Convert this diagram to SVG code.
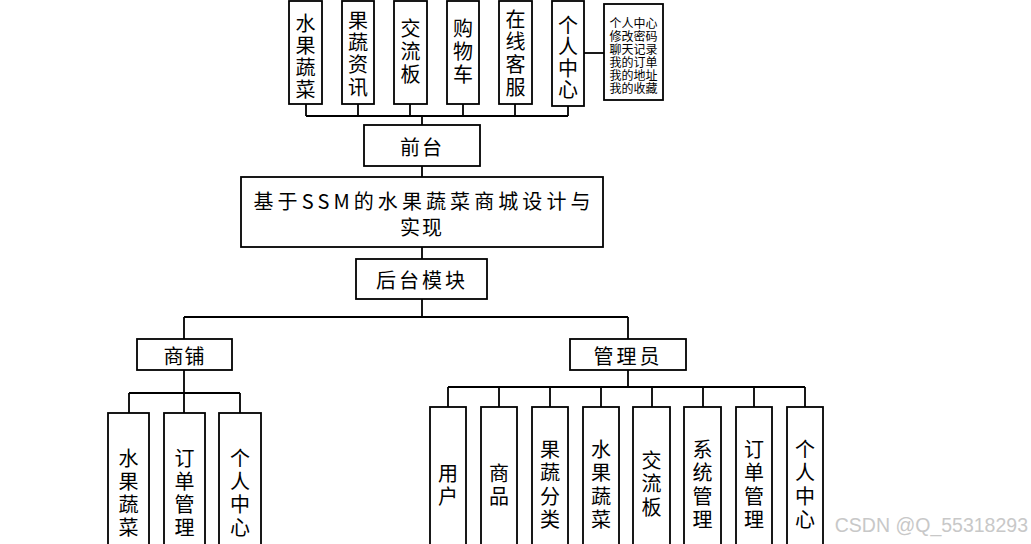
<svg xmlns="http://www.w3.org/2000/svg" width="1031" height="544" viewBox="0 0 1031 544">
<style>
.b{fill:#fff;stroke:#000;stroke-width:1.8}
.t{font-family:"Noto Sans CJK SC","Noto Sans",sans-serif;font-size:20px;fill:#000;text-anchor:middle;dominant-baseline:central}
.s{font-size:12px}
.c{fill:none;stroke:#000;stroke-width:1.8}
.w{font-family:"Liberation Sans",Arial,sans-serif;font-size:19.5px;fill:#c8c8c8}
</style>
<rect width="1031" height="544" fill="#fff"/>
<g id="connectors" class="c">
<path d="M306 104V116M358 104V116M410 104V116M463 104V116M515 104V116M568 106V116M306 116H568M422 116V125"/>
<path d="M584 53H604"/>
<path d="M422 166V177M422 247V259M422 299V317M184 317H628M184 317V339M628 317V339"/>
<path d="M184 370V393M129 393H240M129 393V413M184 393V413M240 393V413"/>
<path d="M628 370V387M448 387H805M448 387V407M499 387V407M550 387V407M601 387V407M652 387V407M703 387V407M754 387V407M805 387V407"/>
</g>
<g id="n1"><rect class="b" x="289" y="1" width="33" height="103"/><text class="t"><tspan x="305.5" y="22">水</tspan><tspan x="305.5" y="44">果</tspan><tspan x="305.5" y="66">蔬</tspan><tspan x="305.5" y="88">菜</tspan></text></g>
<g id="n2"><rect class="b" x="342" y="1" width="32" height="103"/><text class="t"><tspan x="358" y="19">果</tspan><tspan x="358" y="41">蔬</tspan><tspan x="358" y="63">资</tspan><tspan x="358" y="86">讯</tspan></text></g>
<g id="n3"><rect class="b" x="394" y="1" width="33" height="103"/><text class="t"><tspan x="410.5" y="27">交</tspan><tspan x="410.5" y="50">流</tspan><tspan x="410.5" y="73">板</tspan></text></g>
<g id="n4"><rect class="b" x="447" y="1" width="32" height="103"/><text class="t"><tspan x="463" y="27">购</tspan><tspan x="463" y="50">物</tspan><tspan x="463" y="73">车</tspan></text></g>
<g id="n5"><rect class="b" x="499" y="1" width="33" height="103"/><text class="t"><tspan x="515.5" y="18">在</tspan><tspan x="515.5" y="40">线</tspan><tspan x="515.5" y="63">客</tspan><tspan x="515.5" y="86">服</tspan></text></g>
<g id="n6"><rect class="b" x="552" y="1" width="32" height="105"/><text class="t"><tspan x="568" y="24">个</tspan><tspan x="568" y="45">人</tspan><tspan x="568" y="67">中</tspan><tspan x="568" y="88">心</tspan></text></g>
<g id="n7"><rect class="b" x="604" y="4" width="59" height="96"/><text class="t s"><tspan x="633.5" y="22">个人中心</tspan><tspan x="633.5" y="35">修改密码</tspan><tspan x="633.5" y="48">聊天记录</tspan><tspan x="633.5" y="61">我的订单</tspan><tspan x="633.5" y="74">我的地址</tspan><tspan x="633.5" y="87">我的收藏</tspan></text></g>
<g id="front"><rect class="b" x="364" y="125" width="116" height="41"/><text class="t" x="422" y="146" font-size="21" letter-spacing="2">前台</text></g>
<g id="main"><rect class="b" x="241" y="177" width="362" height="70"/><text class="t" x="422" y="200" font-size="21" textLength="337" lengthAdjust="spacing">基于SSM的水果蔬菜商城设计与</text><text class="t" x="422" y="226" font-size="21" letter-spacing="2">实现</text></g>
<g id="back"><rect class="b" x="356" y="259" width="131" height="40"/><text class="t" x="422" y="279" font-size="21" letter-spacing="3">后台模块</text></g>
<g id="shop"><rect class="b" x="137" y="339" width="95" height="31"/><text class="t" x="184.5" y="355" letter-spacing="1">商铺</text></g>
<g id="admin"><rect class="b" x="570" y="339" width="116" height="31"/><text class="t" x="628" y="355" letter-spacing="3">管理员</text></g>
<g id="s1"><rect class="b" x="108" y="413" width="41" height="160"/><text class="t"><tspan x="128.5" y="457">水</tspan><tspan x="128.5" y="480">果</tspan><tspan x="128.5" y="503">蔬</tspan><tspan x="128.5" y="526">菜</tspan></text></g>
<g id="s2"><rect class="b" x="164" y="413" width="41" height="160"/><text class="t"><tspan x="184.5" y="457">订</tspan><tspan x="184.5" y="480">单</tspan><tspan x="184.5" y="503">管</tspan><tspan x="184.5" y="526">理</tspan></text></g>
<g id="s3"><rect class="b" x="219" y="413" width="42" height="160"/><text class="t"><tspan x="240" y="457">个</tspan><tspan x="240" y="480">人</tspan><tspan x="240" y="503">中</tspan><tspan x="240" y="526">心</tspan></text></g>
<g id="a1"><rect class="b" x="430" y="407" width="36" height="160"/><text class="t"><tspan x="448" y="472">用</tspan><tspan x="448" y="495">户</tspan></text></g>
<g id="a2"><rect class="b" x="481" y="407" width="36" height="160"/><text class="t"><tspan x="499" y="472">商</tspan><tspan x="499" y="495">品</tspan></text></g>
<g id="a3"><rect class="b" x="532" y="407" width="36" height="160"/><text class="t"><tspan x="550" y="448">果</tspan><tspan x="550" y="471">蔬</tspan><tspan x="550" y="495">分</tspan><tspan x="550" y="518">类</tspan></text></g>
<g id="a4"><rect class="b" x="583" y="407" width="36" height="160"/><text class="t"><tspan x="601" y="448">水</tspan><tspan x="601" y="471">果</tspan><tspan x="601" y="495">蔬</tspan><tspan x="601" y="518">菜</tspan></text></g>
<g id="a5"><rect class="b" x="633" y="407" width="37" height="160"/><text class="t"><tspan x="651.5" y="459">交</tspan><tspan x="651.5" y="482">流</tspan><tspan x="651.5" y="506">板</tspan></text></g>
<g id="a6"><rect class="b" x="684" y="407" width="37" height="160"/><text class="t"><tspan x="702.5" y="448">系</tspan><tspan x="702.5" y="471">统</tspan><tspan x="702.5" y="495">管</tspan><tspan x="702.5" y="518">理</tspan></text></g>
<g id="a7"><rect class="b" x="736" y="407" width="36" height="160"/><text class="t"><tspan x="754" y="448">订</tspan><tspan x="754" y="471">单</tspan><tspan x="754" y="495">管</tspan><tspan x="754" y="518">理</tspan></text></g>
<g id="a8"><rect class="b" x="787" y="407" width="36" height="160"/><text class="t"><tspan x="805" y="448">个</tspan><tspan x="805" y="471">人</tspan><tspan x="805" y="495">中</tspan><tspan x="805" y="518">心</tspan></text></g>
<text class="w" x="1028" y="532" text-anchor="end">CSDN @Q_55318293</text>
</svg>
